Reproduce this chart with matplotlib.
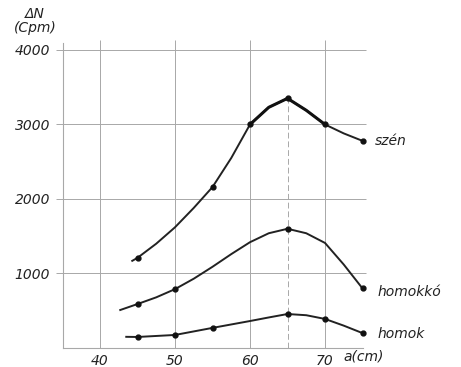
"""Delta N vs a(cm) for szén, homokkó, homok"""
import matplotlib
matplotlib.use("Agg")
import matplotlib.pyplot as plt

# values
szen_x = [44.3, 45, 47.5, 50, 52.5, 55, 57.5, 60, 62.5, 65, 67.5, 70, 72.5, 75]
szen_y = [1170, 1210, 1400, 1620, 1880, 2160, 2550, 3000, 3230, 3350, 3190, 3000, 2880, 2780]
homokko_x = [42.7, 45, 47.5, 50, 52.5, 55, 57.5, 60, 62.5, 65, 67.5, 70, 72.5, 75]
homokko_y = [510, 590, 680, 790, 930, 1090, 1260, 1420, 1540, 1600, 1540, 1410, 1120, 800]
homok_x = [43.5, 45, 50, 55, 60, 62.5, 65, 67.5, 70, 72.5, 75]
homok_y = [150, 148, 175, 270, 362, 410, 456, 440, 390, 300, 200]

# marked points
szen_mx = [45, 55, 60, 65, 70, 75]
szen_my = [1210, 2160, 3000, 3350, 3000, 2780]
homokko_mx = [45, 50, 65, 75]
homokko_my = [590, 790, 1600, 800]
homok_mx = [45, 50, 55, 65, 70, 75]
homok_my = [148, 175, 270, 456, 390, 200]

x_ticks = [40, 50, 60, 70]
y_ticks = [1000, 2000, 3000, 4000]
peak_x = 65
peak_y = 3350


def main():
    """draw chart"""
    fig = plt.figure(figsize=(4.61, 3.67), dpi=100)
    ax = fig.add_axes([62.5 / 461, 19 / 367, 300 / 461, 305.5 / 367])
    ax.set_xlim(35, 75)
    ax.set_ylim(0, 4100)

    grid = "#a8a8a8"
    for x in x_ticks:
        ax.vlines(x, 0, 4130, color=grid, lw=0.7, clip_on=False, zorder=1)
    ax.vlines(peak_x, 0, peak_y, color=grid, lw=0.7, linestyles=(0, (6, 3)), zorder=1)
    for y in y_ticks:
        ax.hlines(y, 35, 75.5, color=grid, lw=0.7, clip_on=False, zorder=1)

    for xs, ys, mx, my in [(szen_x, szen_y, szen_mx, szen_my),
                           (homokko_x, homokko_y, homokko_mx, homokko_my),
                           (homok_x, homok_y, homok_mx, homok_my)]:
        ax.plot(xs, ys, color="#222222", lw=1.4, clip_on=False, zorder=3)
        ax.plot(mx, my, "o", color="#111111", ms=3.5, clip_on=False, zorder=4)
    ax.plot(szen_x[7:12], szen_y[7:12], color="#111111", lw=2.2, zorder=3)

    for side in ["top", "right"]:
        ax.spines[side].set_visible(False)
    for side in ["left", "bottom"]:
        ax.spines[side].set_color(grid)
        ax.spines[side].set_linewidth(0.8)
    ax.set_xticks(x_ticks)
    ax.set_yticks(y_ticks)
    ax.tick_params(axis="x", length=0, pad=4, labelsize=10, colors="#222222")
    ax.tick_params(axis="y", length=5, width=0.7, color=grid, pad=4,
                   labelsize=10, labelcolor="#222222")
    for lab in ax.get_xticklabels() + ax.get_yticklabels():
        lab.set_style("italic")

    tkw = dict(style="italic", fontsize=10, color="#222222", transform=fig.transFigure)
    fig.text(35 / 461, 1 - 14 / 367, "ΔN", ha="center", va="center", **tkw)
    fig.text(35 / 461, 1 - 28 / 367, "(Cpm)", ha="center", va="center", **tkw)
    fig.text(375 / 461, 1 - 141 / 367, "szén", ha="left", va="center", **tkw)
    fig.text(378 / 461, 1 - 292 / 367, "homokkó", ha="left", va="center", **tkw)
    fig.text(378 / 461, 1 - 334 / 367, "homok", ha="left", va="center", **tkw)
    fig.text(343 / 461, 1 - 356 / 367, "a(cm)", ha="left", va="center", **tkw)

    fig.savefig("out.png", dpi=100)


main()
